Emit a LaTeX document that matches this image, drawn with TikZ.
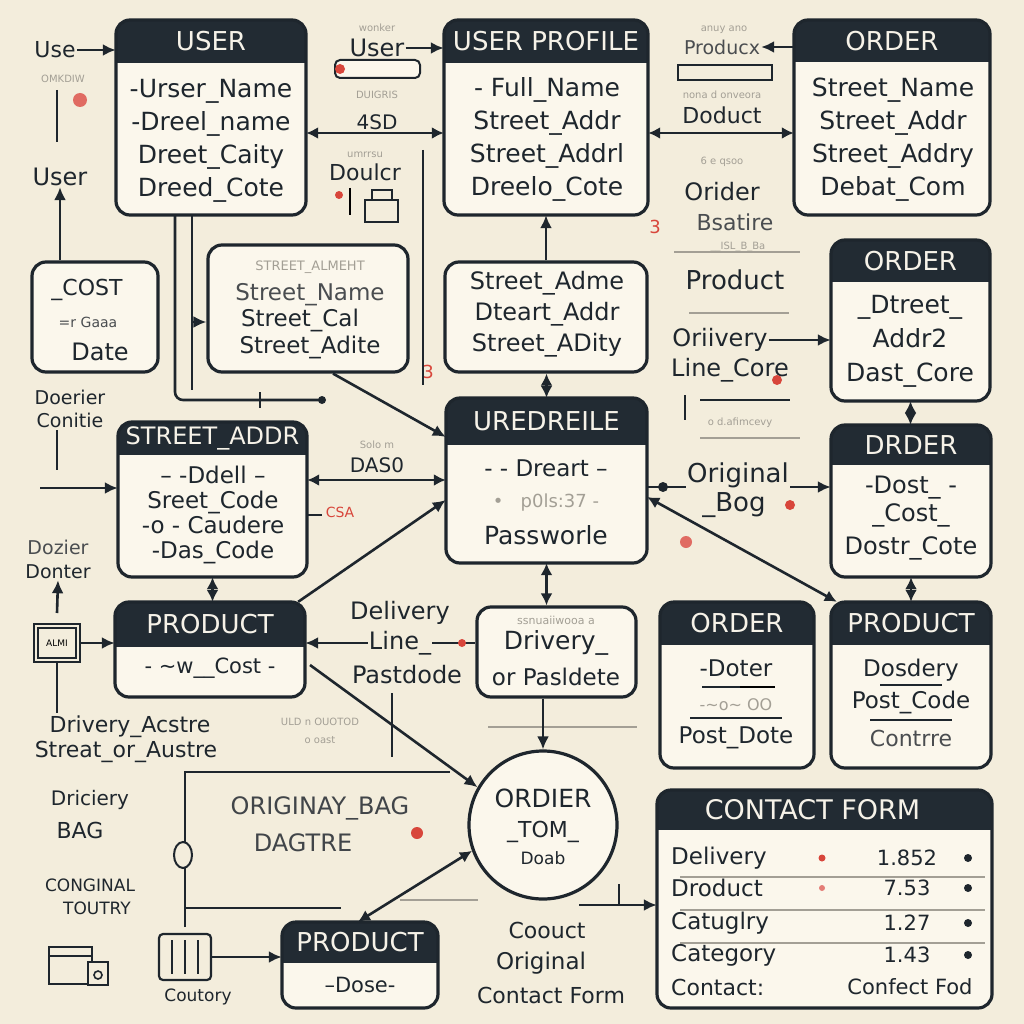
\documentclass[tikz,border=0pt]{standalone}
\usepackage{fontspec}
\setmainfont{DejaVu Sans}
\usetikzlibrary{arrows.meta,fit,calc}
\definecolor{bg}{HTML}{F3EDDC}
\definecolor{hdr}{HTML}{222B33}
\definecolor{boxfill}{HTML}{FBF7EC}
\definecolor{ink}{HTML}{1E262D}
\definecolor{faded}{HTML}{A39F95}
\definecolor{midgray}{HTML}{4A4D50}
\definecolor{redm}{HTML}{D8463B}
\definecolor{ttlcol}{HTML}{F6F2E8}
\newcommand\fs[2]{\fontsize{#1}{#2}\selectfont}
\tikzset{
 ln/.style={draw=ink, line width=2.6pt},
 thin/.style={draw=faded, line width=1.6pt},
 arr/.style={ln, -{Latex[length=13pt,width=12pt]}},
 darr/.style={ln, {Latex[length=12pt,width=12pt]}-{Latex[length=12pt,width=12pt]}},
 frame/.style={draw=ink, line width=3.2pt, rounded corners=14pt},
 lightbox/.style={frame, fill=boxfill, inner sep=0pt},
 ttl/.style={text=ttlcol, font=\fs{26}{30}, inner sep=0pt},
 bd/.style={text=ink, font=\fs{25}{33}, align=center, inner sep=0pt},
 lab/.style={text=ink, font=\fs{24}{28}, align=center, inner sep=1pt},
 tiny/.style={text=faded, font=\fs{10}{12}, inner sep=0pt},
 redm/.style={fill=redm},
}
\newcommand\ent[7]{%
 \coordinate (#1-nw) at (#2,#3);
 \coordinate (#1-se) at (#4,#5);
 \node[fit=(#1-nw)(#1-se), inner sep=0pt, fill=boxfill, rounded corners=14pt] (#1) {};
 \begin{scope}
  \clip[rounded corners=14pt] (#2,#3) rectangle (#4,#5);
  \fill[hdr] (#2,#3) rectangle (#4,#6);
 \end{scope}
 \draw[frame] (#2,#3) rectangle (#4,#5);
 \node[ttl] (#1-t) at ({(#2+#4)/2},{(#3+#6)/2}) {#7};
}
\newcommand\lbox[5]{%
 \coordinate (#1-nw) at (#2,#3);
 \coordinate (#1-se) at (#4,#5);
 \node[fit=(#1-nw)(#1-se), lightbox] (#1) {};
}
\begin{document}
\begin{tikzpicture}[x=1pt,y=-1pt]
\useasboundingbox (0,0) rectangle (1024,1024);
\fill[bg] (0,0) rectangle (1024,1024);

% ---------- entity boxes ----------
\ent{user}{116}{20}{306}{215}{63}{USER}
\ent{uprof}{444}{20}{648}{215}{63}{USER PROFILE}
\ent{orderA}{794}{20}{990}{215}{62}{ORDER}
\ent{orderB}{831}{240}{990}{401}{282}{ORDER}
\ent{street}{118}{422}{307}{577}{455}{\fs{24}{28}STREET\_ADDR}
\ent{uredr}{446}{398}{647}{563}{445}{UREDREILE}
\ent{drder}{831}{425}{991}{577}{465}{DRDER}
\ent{prodA}{115}{602}{305}{697}{647}{PRODUCT}
\ent{orderC}{660}{602}{814}{768}{645}{ORDER}
\ent{prodB}{831}{602}{991}{768}{645}{PRODUCT}
\ent{contact}{657}{790}{992}{1008}{830}{\fs{27}{30}CONTACT FORM\hspace*{24pt}}
\ent{prodC}{282}{922}{438}{1008}{963}{PRODUCT}

% ---------- light boxes ----------
\lbox{cost}{32}{262}{158}{372}
\lbox{streetB}{208}{245}{408}{372}
\lbox{adme}{445}{262}{647}{372}
\lbox{drivery}{477}{607}{636}{697}
\node[lightbox, circle, minimum size=148pt] (ordier) at (543,825) {};

% ---------- box contents ----------
\node[bd] (user-b) at (211,141) {-Urser\_Name\\-Dreel\_name\\Dreet\_Caity\\Dreed\_Cote};
\node[bd] (uprof-b) at (547,139) {- Full\_Name\\Street\_Addr\\Street\_Addrl\\Dreelo\_Cote};
\node[bd] (orderA-b) at (893,140) {Street\_Name\\Street\_Addr\\Street\_Addry\\Debat\_Com};
\node[bd, font=\fs{25}{34}] (orderB-b) at (910,341) {\_Dtreet\_\\Addr2\\Dast\_Core};
\node[bd, font=\fs{23}{25}] (street-b) at (213,515) {-- -Ddell --\\Sreet\_Code\\-o - Caudere\\-Das\_Code};
\node[bd, font=\fs{23}{28}] (uredr-b1) at (546,468) {- - Dreart --};
\node[bd, font=\fs{18}{20}, text=faded] (uredr-b2) at (546,503) {• ~ p0ls:37 -};
\node[bd] (uredr-b3) at (546,535) {Passworle};
\node[bd, font=\fs{24}{28}] (drder-b1) at (911,488) {-Dost\_ -};
\node[bd, font=\fs{24}{28}] (drder-b2) at (911,515) {\_Cost\_};
\node[bd, font=\fs{24}{28}] (drder-b3) at (911,548) {Dostr\_Cote};
\node[bd, font=\fs{21}{24}] (prodA-b) at (210,668) {- \textasciitilde w\_\_Cost -};
\node[bd, font=\fs{23}{26}] (orderC-b1) at (736,668) {-Doter};
\draw[ink, line width=2pt] (702,687) -- (740,687);
\draw[redm, line width=2pt] (740,687) -- (775,687);
\node[bd, font=\fs{16}{18}, text=faded] (orderC-b2) at (736,705) {-\textasciitilde o\textasciitilde{} OO};
\draw[ink, line width=1.6pt] (690,718) -- (782,718);
\node[bd, font=\fs{23}{26}] (orderC-b3) at (736,738) {Post\_Dote};
\node[bd, font=\fs{23}{26}] (prodB-b1) at (911,670) {Dosdery};
\draw[ink, line width=1.6pt] (880,685) -- (942,685);
\node[bd, font=\fs{23}{26}] (prodB-b2) at (911,702) {Post\_Code};
\draw[ink, line width=1.6pt] (870,720) -- (952,720);
\node[bd, font=\fs{22}{26}, text=midgray] (prodB-b3) at (911,738) {Contrre};
\node[bd, font=\fs{21}{24}] (prodC-b) at (360,985) {--Dose-};
% contact form rows
\foreach \yy in {877,910,943} {\draw[faded, line width=1.4pt] (680,\yy) -- (985,\yy);}
\node[lab, anchor=west, font=\fs{23}{26}] (cf1) at (670,858) {Delivery};
\node[lab, anchor=west, font=\fs{23}{26}] (cf2) at (670,888) {Droduct};
\node[lab, anchor=west, font=\fs{23}{26}] (cf3) at (670,923) {Catuglry};
\node[lab, anchor=west, font=\fs{23}{26}] (cf4) at (670,955) {Category};
\node[lab, anchor=west, font=\fs{22}{26}] (cf5) at (670,987) {Contact:};
\node[lab, font=\fs{21}{24}] (cn1) at (907,858) {1.852};
\node[lab, font=\fs{21}{24}] (cn2) at (907,888) {7.53};
\node[lab, font=\fs{21}{24}] (cn3) at (907,923) {1.27};
\node[lab, font=\fs{21}{24}] (cn4) at (907,955) {1.43};
\node[lab, font=\fs{21}{24}] (cn5) at (910,987) {Confect Fod};
\foreach \yy in {858,888,923,955} {\fill[ink] (968,\yy) circle (4);}
\fill[redm] (822,858) circle (3.5);
\fill[redm!70] (822,888) circle (3);
\node[lab, font=\fs{22}{26}] (cost-b1) at (87,290) {\_COST};
\node[lab, font=\fs{14}{16}, text=midgray] (cost-b2) at (88,322) {=r\ Gaaa};
\node[lab, font=\fs{24}{28}] (cost-b3) at (100,352) {Date};
\node[lab, font=\fs{13}{16}, text=faded] (sb0) at (310,267) {STREET\_ALMEHT};
\node[lab, font=\fs{23}{26}, text=midgray] (sb1) at (310,295) {Street\_Name};
\node[lab, font=\fs{23}{26}] (sb2) at (300,320) {Street\_Cal};
\node[lab, font=\fs{23}{26}] (sb3) at (310,347) {Street\_Adite};
\node[bd, font=\fs{24}{31}] (adme-b) at (547,314) {Street\_Adme\\Dteart\_Addr\\Street\_ADity};
\node[lab, font=\fs{11}{13}, text=faded] (dv0) at (556,620) {ssnuaiiwooa a};
\node[lab, font=\fs{25}{28}] (dv1) at (556,643) {Drivery\_};
\node[lab, font=\fs{23}{26}] (dv2) at (556,677) {or Pasldete};
\node[lab, font=\fs{25}{28}] (od1) at (543,798) {ORDIER};
\node[lab, font=\fs{22}{26}] (od2) at (543,832) {\_TOM\_};
\node[lab, font=\fs{17}{20}] (od3) at (543,858) {Doab};

% ---------- free labels ----------
\node[lab, font=\fs{22}{26}] (use) at (55,50) {Use};
\node[tiny] (omk) at (63,79) {OMKDIW};
\node[lab] (user2) at (60,177) {User};
\node[lab] (user3) at (377,48) {User};
\node[tiny] (wonk) at (377,28) {wonker};
\node[tiny] (duig) at (377,95) {DUIGRIS};
\node[lab, font=\fs{20}{24}] (sd) at (377,122) {4SD};
\node[tiny] (umr) at (365,155) {umrrsu};
\node[lab, font=\fs{22}{26}] (doulcr) at (365,172) {Doulcr};
\node[tiny] (andy) at (724,30) {anuy ano};
\node[lab, font=\fs{19}{22}, text=midgray] (prodx) at (722,47) {Producx};
\node[tiny] (nona) at (722,95) {nona d onveora};
\node[lab, font=\fs{22}{26}] (doduct) at (722,115) {Doduct};
\node[tiny] (gsd) at (722,162) {6 e qsoo};
\node[lab] (orider) at (722,192) {Orider};
\node[lab, font=\fs{22}{26}, text=midgray] (bsat) at (735,222) {Bsatire};
\node[tiny] (isl) at (738,247) {\_\_ISL\_B\_Ba};
\node[lab, font=\fs{26}{30}] (prod) at (735,280) {Product};
\node[lab] (oriiv) at (720,340) {Oriivery};
\node[lab] (linec) at (730,370) {Line\_Core};
\node[tiny] (odal) at (740,423) {o d.afimcevy};
\node[lab, font=\fs{19}{22}] (doer) at (70,397) {Doerier};
\node[lab, font=\fs{19}{22}] (conit) at (70,420) {Conitie};
\node[tiny] (solo) at (377,445) {Solo m};
\node[lab, font=\fs{20}{24}] (das) at (377,465) {DAS0};
\node[lab, font=\fs{26}{30}] (orig) at (738,475) {Original};
\node[lab, font=\fs{26}{30}] (bog) at (734,505) {\_Bog};
\node[lab, font=\fs{19}{22}, text=midgray] (dozier) at (58,547) {Dozier};
\node[lab, font=\fs{19}{22}] (donter) at (58,572) {Donter};
\node[lab] (deliv) at (400,613) {Delivery};
\node[lab] (line) at (400,643) {Line\_};
\node[lab] (pastd) at (407,675) {Pastdode};
\node[tiny] (ulnd) at (320,722) {ULD n OUOTOD};
\node[tiny] (oast) at (320,740) {o oast};
\node[lab, font=\fs{22}{26}] (dracs) at (130,727) {Drivery\_Acstre};
\node[lab, font=\fs{22}{26}] (strea) at (126,752) {Streat\_or\_Austre};
\node[lab, font=\fs{20}{24}] (dric) at (90,800) {Driciery};
\node[lab, font=\fs{22}{26}] (bag) at (80,830) {BAG};
\node[lab, font=\fs{17}{20}] (cong) at (90,885) {CONGINAL};
\node[lab, font=\fs{17}{20}] (tout) at (97,908) {TOUTRY};
\node[lab, font=\fs{24}{28}, text=midgray!80!ink] (obag) at (320,808) {ORIGINAY\_BAG};
\node[lab, font=\fs{24}{28}, text=midgray!80!ink] (dagt) at (303,843) {DAGTRE};
\node[lab, font=\fs{17}{20}] (cout) at (198,997) {Coutory};
\node[lab, font=\fs{22}{26}] (coou) at (547,930) {Coouct};
\node[lab, font=\fs{23}{26}] (orig2) at (541,963) {Original};
\node[lab, font=\fs{22}{26}] (cform) at (551,995) {Contact Form};

% ---------- icons ----------
\node[draw=ink, line width=2.2pt, minimum width=46pt, minimum height=38pt, inner sep=0pt, font=\fs{9}{10}] (icon1) at (57,643) {ALMI};
\draw[ink, line width=1.4pt] ([shift={(5pt,-5pt)}]icon1.north west) rectangle ([shift={(-5pt,5pt)}]icon1.south east);
\node[draw=ink, line width=2.2pt, minimum width=52pt, minimum height=46pt, rounded corners=4pt, inner sep=0pt] (db) at (185,957) {};
\draw[ink, line width=1.6pt] (172,940) -- (172,974) (185,940) -- (185,974) (198,940) -- (198,974);
\draw[ink, line width=2.2pt] (49,947) rectangle (92,984) (49,956) -- (92,956);
\draw[ink, line width=2.2pt, fill=bg] (88,962) rectangle (108,985);
\draw[ink, line width=1.6pt] (98,975) circle (4);
\draw[ink, line width=2pt, rounded corners=5pt, fill=boxfill] (335,60) rectangle (420,78);
\fill[redm] (340,69) circle (5);
\draw[ink, line width=2pt] (678,65) rectangle (772,80);
\draw[ink, line width=1.6pt] (365,200) rectangle (398,222) (372,190) rectangle (392,200);
\draw[redm, line width=2pt] (350,188) -- (350,215);
\fill[redm!80] (80,100) circle (7);
\fill[redm] (339,195) circle (4);
\node[text=redm, font=\fs{18}{20}] (red3a) at (428,372) {3};
\node[text=redm, font=\fs{18}{20}] (red3b) at (655,227) {3};
\fill[redm] (417,833) circle (6);
\fill[redm] (777,380) circle (5);
\fill[redm] (790,505) circle (5);
\node[text=redm, font=\fs{14}{16}] (csa) at (340,512) {CSA};
\fill[redm!80] (686,542) circle (6);

% faint lines
\draw[thin] (689,313) -- (789,313);
\draw[thin] (674,252) -- (800,252);
\draw[thin] (700,438) -- (800,438);
\draw[thin] (488,727) -- (637,727);
\draw[thin] (400,900) -- (478,900);
\draw[ink, line width=2pt] (685,395) -- (685,420);
\draw[ink, line width=1.6pt] (700,400) -- (790,400);

% ---------- connectors ----------
\draw[arr] (use.east) -- (user.west |- use.east);
\draw[ln] (57,90) -- (57,142);
\draw[arr] (cost.north -| user2.south) -- (user2.south);
\draw[darr] (user.east |- 0,133) -- (uprof.west |- 0,133);
\draw[arr] (user3.east) -- (uprof.west |- user3.east);
\draw[darr] (uprof.east |- 0,133) -- (orderA.west |- 0,133);
\draw[arr] (orderA.west |- 0,47) -- (prodx.east);
\draw[arr] (adme.north -| uprof.south) -- (uprof.south);
\draw[darr] (adme.south -| uredr.north) -- (uredr.north);
\draw[ln, rounded corners=8pt] (user.south -| 175,0) -- (175,400) -- (322,400);
\fill[ink] (322,400) circle (4);
\draw[ln] (260,392) -- (260,408);
\draw[ln] (user.south -| 192,0) -- (192,390);
\draw[arr] (192,322) -- (streetB.west |- 0,322);
\draw[arr] (streetB.south -| 333,0) -- (uredr.west |- 0,437);
\draw[ln] (423,150) -- (423,385);
\draw[darr] (street.east |- 0,480) -- (uredr.west |- 0,480);
\draw[ln] (street.east |- 0,515) -- (322,515);
\coordinate (lin) at (40,488);
\draw[arr] (lin) -- (street.west |- lin);
\draw[ln] (57,430) -- (57,470);
\draw[darr] (street.south) -- (street.south |- prodA.north);
\draw[arr] ([xshift=-7pt]prodA.north east) -- (uredr.west |- 0,500);
\draw[arr] (line.west) -- (prodA.east |- line.west);
\draw[ln] (line.east) -- (drivery.west |- line.east);
\fill[redm] (462,643) circle (4);
\coordinate (pa) at (310,665);
\draw[arr] (pa) -- (ordier.150);
\draw[darr] (uredr.south) -- (drivery.north -| uredr.south);
\draw[arr] (drivery.south -| ordier.north) -- (ordier.north);
\draw[darr] (ordier.200) -- (prodC.north -| 358,0);
\draw[arr] (db.east) -- (prodC.west |- db.east);
\draw[ln] (185,927) -- (185,772) -- (450,772);
\draw[ln] (185,908) -- (341,908);
\draw[ink, line width=2pt, fill=bg] (183,855) ellipse (9pt and 13pt);
\coordinate (cfin) at (579,905);
\draw[arr] (cfin) -- (contact.west |- cfin);
\draw[ln] (619,884) -- (619,905);
\draw[arr] (oriiv.east) -- (orderB.west |- oriiv.east);
\draw[darr] (orderB.south) -- (orderB.south |- drder.north);
\draw[ln] (uredr.east |- 0,487) -- (orig.west |- 0,487);
\fill[ink] (663,487) circle (5);
\draw[arr] (orig.east |- 0,487) -- (drder.west |- 0,487);
\draw[darr] (uredr.east |- 0,497) -- ([xshift=6pt]prodB.north west);
\draw[darr] (drder.south) -- (drder.south |- prodB.north);
\draw[arr] (icon1.east) -- (prodA.west |- icon1.east);
\draw[arr] (57,613) -- (donter.south);
\draw[ln] (icon1.south) -- ++(0,50);
\draw[ln] (392,693) -- (392,757);
\end{tikzpicture}
\end{document}
